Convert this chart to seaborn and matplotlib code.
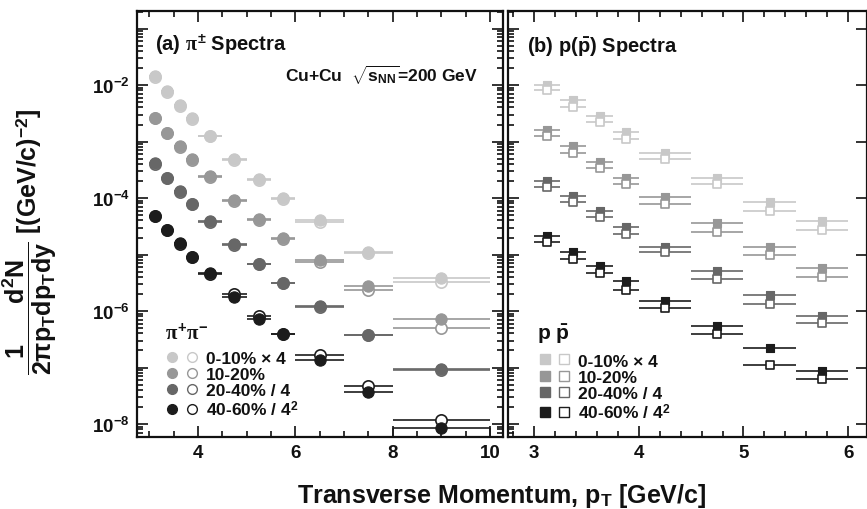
import numpy as np
import pandas as pd
import matplotlib
matplotlib.use("Agg")
import matplotlib.pyplot as plt
import seaborn as sns
from matplotlib.lines import Line2D
from matplotlib.legend_handler import HandlerTuple
from matplotlib.ticker import LogLocator, FuncFormatter, MultipleLocator, NullFormatter

# centrality classes
cent_labels = ["0-10% \u00d7 4", "10-20%", "20-40% / 4", "40-60% / 4$^{\\mathbf{2}}$"]
cent_colors = ["#c8c8c8", "#979797", "#676767", "#1c1c1c"]

# pion spectra (pT bin centres and edges)
pion_pt = [3.125, 3.375, 3.625, 3.875, 4.25, 4.75, 5.25, 5.75, 6.5, 7.5, 9.0]
pion_lo = [3.0, 3.25, 3.5, 3.75, 4.0, 4.5, 5.0, 5.5, 6.0, 7.0, 8.0]
pion_hi = [3.25, 3.5, 3.75, 4.0, 4.5, 5.0, 5.5, 6.0, 7.0, 8.0, 10.0]

pip_0010 = [1.42e-2, 7.7e-3, 4.4e-3, 2.6e-3, 1.27e-3, 4.9e-4, 2.17e-4, 1.0e-4, 4.0e-5, 1.12e-5, 3.8e-6]
pim_0010 = [1.40e-2, 7.6e-3, 4.3e-3, 2.55e-3, 1.25e-3, 4.8e-4, 2.1e-4, 9.6e-5, 3.8e-5, 1.05e-5, 3.2e-6]
pip_1020 = [2.61e-3, 1.41e-3, 8.2e-4, 4.9e-4, 2.42e-4, 9.2e-5, 4.25e-5, 1.94e-5, 8.1e-6, 2.73e-6, 7.2e-7]
pim_1020 = [2.58e-3, 1.39e-3, 8.1e-4, 4.8e-4, 2.38e-4, 9.0e-5, 4.1e-5, 1.85e-5, 7.4e-6, 2.35e-6, 5.1e-7]
pip_2040 = [4.1e-4, 2.26e-4, 1.31e-4, 7.9e-5, 3.87e-5, 1.53e-5, 6.8e-6, 3.13e-6, 1.21e-6, 3.76e-7, 9.4e-8]
pim_2040 = [4.05e-4, 2.23e-4, 1.29e-4, 7.8e-5, 3.8e-5, 1.5e-5, 6.7e-6, 3.1e-6, 1.2e-6, 3.7e-7, 9.2e-8]
pip_4060 = [4.86e-5, 2.75e-5, 1.58e-5, 9.1e-6, 4.64e-6, 1.79e-6, 7.2e-7, 3.86e-7, 1.37e-7, 3.73e-8, 8.5e-9]
pim_4060 = [4.8e-5, 2.72e-5, 1.56e-5, 9.0e-6, 4.6e-6, 2.0e-6, 8.0e-7, 3.9e-7, 1.66e-7, 4.65e-8, 1.18e-8]

# proton spectra
prot_pt = [3.125, 3.375, 3.625, 3.875, 4.25, 4.75, 5.25, 5.75]
prot_lo = [3.0, 3.25, 3.5, 3.75, 4.0, 4.5, 5.0, 5.5]
prot_hi = [3.25, 3.5, 3.75, 4.0, 4.5, 5.0, 5.5, 6.0]

p_0010 = [1.0e-2, 5.4e-3, 2.8e-3, 1.49e-3, 6.25e-4, 2.23e-4, 8.6e-5, 3.96e-5]
pbar_0010 = [8.3e-3, 4.0e-3, 2.19e-3, 1.11e-3, 4.9e-4, 1.77e-4, 5.97e-5, 2.7e-5]
p_1020 = [1.6e-3, 8.2e-4, 4.28e-4, 2.26e-4, 1.03e-4, 3.56e-5, 1.34e-5, 5.7e-6]
pbar_1020 = [1.24e-3, 6.25e-4, 3.36e-4, 1.77e-4, 7.8e-5, 2.47e-5, 9.8e-6, 4.05e-6]
p_2040 = [2.03e-4, 1.07e-4, 5.97e-5, 3.03e-5, 1.34e-5, 5.17e-6, 1.95e-6, 8.05e-7]
pbar_2040 = [1.59e-4, 8.4e-5, 4.55e-5, 2.3e-5, 1.1e-5, 3.68e-6, 1.33e-6, 6.05e-7]
p_4060 = [2.16e-5, 1.12e-5, 6.34e-6, 3.36e-6, 1.52e-6, 5.5e-7, 2.19e-7, 8.8e-8]
pbar_4060 = [1.64e-5, 8.3e-6, 4.64e-6, 2.38e-6, 1.12e-6, 3.92e-7, 1.12e-7, 6.25e-8]

pos_pion = [pip_0010, pip_1020, pip_2040, pip_4060]
neg_pion = [pim_0010, pim_1020, pim_2040, pim_4060]
pos_prot = [p_0010, p_1020, p_2040, p_4060]
neg_prot = [pbar_0010, pbar_1020, pbar_2040, pbar_4060]

# Style
sns.set_theme(style="ticks")
plt.rcParams["font.family"] = ["Liberation Sans", "DejaVu Sans"]
plt.rcParams["font.weight"] = "bold"
plt.rcParams["mathtext.fontset"] = "custom"
plt.rcParams["mathtext.rm"] = "Liberation Sans:bold"
plt.rcParams["mathtext.bf"] = "Liberation Sans:bold"
plt.rcParams["mathtext.sf"] = "Liberation Sans:bold"
plt.rcParams["mathtext.it"] = "Liberation Serif"
plt.rcParams["axes.linewidth"] = 1.6
plt.rcParams["text.color"] = "#111111"


def build_frame(pt, lo, hi, pos, neg):
    rows = []
    for k in range(len(cent_labels)):
        for charge, vals in (("pos", pos[k]), ("neg", neg[k])):
            for i in range(len(pt)):
                rows.append([pt[i], lo[i], hi[i], vals[i], k, charge])
    return pd.DataFrame(rows, columns=["pt", "lo", "hi", "y", "cent", "charge"])


pion_df = build_frame(pion_pt, pion_lo, pion_hi, pos_pion, neg_pion)
prot_df = build_frame(prot_pt, prot_lo, prot_hi, pos_prot, neg_prot)

W, H = 867, 510
fig = plt.figure(figsize=(W / 100, H / 100), dpi=100)
ax1 = fig.add_axes([137 / W, 72 / H, 366 / W, 426 / H])
ax2 = fig.add_axes([508 / W, 72 / H, 359 / W, 426 / H])

ylim = (10 ** -8.23, 10 ** -0.69)


def draw_panel(ax, df, marker, size, open_on_top):
    for k, c in enumerate(cent_colors):
        sub = df[df["cent"] == k]
        for charge in ("pos", "neg"):
            s = sub[sub["charge"] == charge]
            ax.hlines(s["y"], s["lo"], s["hi"], colors=c, lw=1.2, zorder=2)
        filled = sub[sub["charge"] == "pos"]
        hollow = sub[sub["charge"] == "neg"]
        zf, zo = (3, 4) if open_on_top else (4, 3)
        sns.scatterplot(data=filled, x="pt", y="y", ax=ax, marker=marker, s=size,
                        color=c, edgecolor=c, linewidth=0.8, zorder=zf, legend=False)
        sns.scatterplot(data=hollow, x="pt", y="y", ax=ax, marker=marker, s=size,
                        color="white", edgecolor=c, linewidth=1.2, zorder=zo, legend=False)


draw_panel(ax1, pion_df, "o", 66, open_on_top=False)
draw_panel(ax2, prot_df, "s", 40, open_on_top=True)

# clipped box of the last pion bin (40-60%)
last = pion_df[(pion_df["cent"] == 3) & (pion_df["charge"] == "pos")].iloc[-1]
ax1.vlines([last["lo"], last["hi"]], ylim[0], last["y"], colors=cent_colors[3], lw=1.2, zorder=2)


def ylab(v, pos):
    if v < ylim[0] or v > ylim[1]:
        return ""
    e = int(round(np.log10(v)))
    if e % 2 == 0:
        return r"$\mathbf{10^{%d}}$" % e
    return ""


for ax in (ax1, ax2):
    ax.set_yscale("log")
    ax.set_ylim(*ylim)
    ax.set_xlabel("")
    ax.set_ylabel("")
    ax.yaxis.set_major_locator(LogLocator(base=10, numticks=20))
    ax.yaxis.set_minor_locator(LogLocator(base=10, subs=np.arange(2, 10), numticks=20))
    ax.tick_params(which="both", direction="in", top=True, right=True, width=1.2, colors="#111111")
    ax.tick_params(which="major", length=8, labelsize=13.5, pad=5)
    ax.tick_params(which="minor", length=4)
    for sp in ax.spines.values():
        sp.set_linewidth(1.6)
        sp.set_color("#111111")

ax1.set_xlim(2.75, 10.27)
ax1.xaxis.set_major_locator(MultipleLocator(2))
ax1.xaxis.set_minor_locator(MultipleLocator(0.5))
ax1.yaxis.set_major_formatter(FuncFormatter(ylab))
ax1.yaxis.set_minor_formatter(NullFormatter())

ax2.set_xlim(2.75, 6.18)
ax2.xaxis.set_major_locator(MultipleLocator(1))
ax2.xaxis.set_minor_locator(MultipleLocator(0.2))
ax2.tick_params(axis="y", which="minor", right=False)
ax2.tick_params(axis="y", labelleft=False)
ax2.yaxis.set_minor_formatter(NullFormatter())

for ax in (ax1, ax2):
    for lab in ax.get_xticklabels():
        lab.set_fontweight("bold")

# panel texts
ax1.text(0.049, 0.922, r"(a) $\pi^{\pm}$ Spectra", transform=ax1.transAxes,
         fontsize=14.5, fontweight="bold", va="center", ha="left")
ax1.text(0.405, 0.85, r"Cu+Cu  $\sqrt{\mathbf{s_{NN}}}$=200 GeV", transform=ax1.transAxes,
         fontsize=12.5, fontweight="bold", va="center", ha="left")
ax2.text(0.053, 0.917, r"(b) p($\mathbf{\bar{p}}$) Spectra", transform=ax2.transAxes,
         fontsize=14.5, fontweight="bold", va="center", ha="left")

# legends


def add_legend(ax, marker, ms, title, anchor):
    handles = []
    for c in cent_colors:
        f = Line2D([], [], marker=marker, ls="none", markerfacecolor=c, markeredgecolor=c, markersize=ms)
        o = Line2D([], [], marker=marker, ls="none", markerfacecolor="white", markeredgecolor=c,
                   markersize=ms, markeredgewidth=1.0)
        handles.append((f, o))
    leg = ax.legend(handles, cent_labels, handler_map={tuple: HandlerTuple(ndivide=None, pad=0.25)},
                    loc="upper left", bbox_to_anchor=anchor, frameon=False, title=title,
                    handlelength=2.0, handletextpad=0.35, labelspacing=0.06, borderpad=0,
                    borderaxespad=0, prop={"weight": "bold", "size": 12.5},
                    title_fontproperties={"size": 15, "weight": "bold"})
    leg._legend_box.align = "left"
    leg._legend_box.sep = 6
    return leg


add_legend(ax1, "o", 7, r"$\pi^{+}\pi^{-}$", (0.076, 0.271))
add_legend(ax2, "s", 6.5, r"p $\mathbf{\bar{p}}$", (0.081, 0.271))

# axis titles
fig.text(502 / W, 1 - 496 / H, r"Transverse Momentum, p$_{\mathbf{T}}$ [GeV/c]",
         ha="center", va="center", fontsize=18, fontweight="bold")
fig.text(30 / W, 1 - 242 / H,
         r"$\dfrac{\mathbf{1 \quad\quad d^{2}N}}{\mathbf{2\pi p_{T} dp_{T} dy}}$ [(GeV/c)$^{\mathbf{-2}}$]",
         rotation=90, ha="center", va="center", fontsize=18, fontweight="bold")

fig.savefig("out.png", dpi=100)
